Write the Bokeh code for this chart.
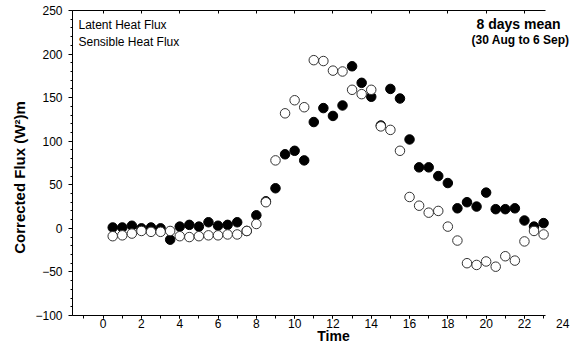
from bokeh.plotting import figure
from bokeh.models import Label, LinearAxis, FixedTicker, Range1d
from bokeh.embed import file_html
from bokeh.resources import INLINE

# Time of day (hours), half-hourly
time = [0.5, 1.0, 1.5, 2.0, 2.5, 3.0, 3.5, 4.0, 4.5, 5.0, 5.5, 6.0, 6.5, 7.0, 7.5, 8.0,
        8.5, 9.0, 9.5, 10.0, 10.5, 11.0, 11.5, 12.0, 12.5, 13.0, 13.5, 14.0, 14.5, 15.0,
        15.5, 16.0, 16.5, 17.0, 17.5, 18.0, 18.5, 19.0, 19.5, 20.0, 20.5, 21.0, 21.5,
        22.0, 22.5, 23.0]

# filled circles
latent = [1, 1, 3, 0, 1, 0, -13, 2, 4, 2, 7, 3, 4, 7, -3, 15,
          31, 46, 85, 89, 78, 122, 138, 129, 141, 186, 167, 151, 118, 160,
          149, 102, 70, 70, 60, 52, 23, 30, 25, 41, 22, 22, 23,
          9, 2, 6]

# open circles
sensible = [-9, -8, -6, -3, -4, -4, -3, -9, -10, -9, -8, -8, -7, -7, -3, 5,
            30, 78, 132, 147, 139, 193, 192, 181, 180, 159, 154, 159, 117, 113,
            89, 36, 26, 18, 20, 2, -14, -40, -42, -38, -44, -32, -37,
            -15, -3, -7]

x_ticks = [0, 2, 4, 6, 8, 10, 12, 14, 16, 18, 20, 22]
y_ticks = [-100, -50, 0, 50, 100, 150, 200, 250]
x_axis_span = (-1.6, 23.1)
y_axis_span = (-100, 250)

FONT = "Liberation Sans"
W, H = 582, 357
# layout geometry (canvas pixels): plot box left/top, pixel scales
X0, XS = 72, 19.15      # x axis starts at canvas px 72, 19.15 px per hour
Y0, YS = 10, 0.8714     # y=250 at canvas px 10, 0.8714 px per unit


def dx(px):
    return x_axis_span[0] + (px - X0) / XS


def dy(py):
    return y_axis_span[1] - (py - Y0) / YS


p = figure(width=W, height=H, x_range=Range1d(dx(0), dx(W)), y_range=Range1d(dy(H), dy(0)),
           output_backend="svg", toolbar_location=None,
           x_axis_location=None, y_axis_location=None,
           min_border=0, min_border_left=0, min_border_right=0, min_border_top=0,
           min_border_bottom=0)
p.outline_line_color = None
p.grid.visible = False
p.background_fill_color = "white"
p.border_fill_color = "white"

# bottom axis
xa = LinearAxis(fixed_location=y_axis_span[0], bounds=x_axis_span,
                ticker=FixedTicker(ticks=x_ticks, minor_ticks=list(range(-1, 24))))
xa.major_tick_in = 0
xa.major_tick_out = 3
xa.minor_tick_in = 0
xa.minor_tick_out = 3
xa.major_label_standoff = 1
xa.major_label_text_font = FONT
xa.major_label_text_font_size = "12px"
xa.major_label_text_color = "black"
xa.axis_line_color = "black"
p.add_layout(xa, "below")

# left axis
ya = LinearAxis(fixed_location=x_axis_span[0], bounds=y_axis_span,
                ticker=FixedTicker(ticks=y_ticks, minor_ticks=list(range(-100, 251, 10))))
ya.major_tick_in = 0
ya.major_tick_out = 4
ya.minor_tick_in = 0
ya.minor_tick_out = 2
ya.major_label_standoff = 6
ya.major_label_text_font = FONT
ya.major_label_text_font_size = "12px"
ya.major_label_text_color = "black"
ya.axis_line_color = "black"
p.add_layout(ya, "left")

# top axis (line with small inward ticks, no labels)
ta = LinearAxis(fixed_location=y_axis_span[1], bounds=x_axis_span,
                ticker=FixedTicker(ticks=[], minor_ticks=x_ticks),
                major_tick_in=0, major_tick_out=0, minor_tick_in=3, minor_tick_out=0,
                axis_line_color="black")
p.add_layout(ta, "above")

p.scatter(time, latent, size=9.5, marker="circle", fill_color="black", line_color="black")
p.scatter(time, sensible, size=9.5, marker="circle", fill_color="white",
          line_color="#333333", line_width=1)


def add_text(cx, cy, text, **kw):
    opts = dict(text_font=FONT, text_color="black", text_baseline="middle")
    opts.update(kw)
    p.add_layout(Label(x=dx(cx), y=dy(cy), text=text, **opts))


# extra '24' tick label beyond the axis end
p.add_layout(Label(x=24, y=dy(323), text="24", text_align="center", text_baseline="middle",
                   text_font=FONT, text_font_size="12px", text_color="black"))

# axis titles
add_text(333, 335, "Time", text_align="center", text_font_style="bold",
         text_font_size="14px")
add_text(19, 177, "Corrected Flux (W²)m", angle=1.5707963, text_align="center",
         text_font_style="bold", text_font_size="15px")

# legend texts
add_text(78, 24, "Latent Heat Flux", text_align="left", text_font_size="12px")
add_text(78, 41.5, "Sensible Heat Flux", text_align="left", text_font_size="12px")

# annotation
add_text(518, 23, "8 days mean", text_align="center", text_font_style="bold",
         text_font_size="14px")
add_text(520, 39, "(30 Aug to 6 Sep)", text_align="center", text_font_style="bold",
         text_font_size="12px")

open("out.html", "w").write(file_html(p, INLINE))
